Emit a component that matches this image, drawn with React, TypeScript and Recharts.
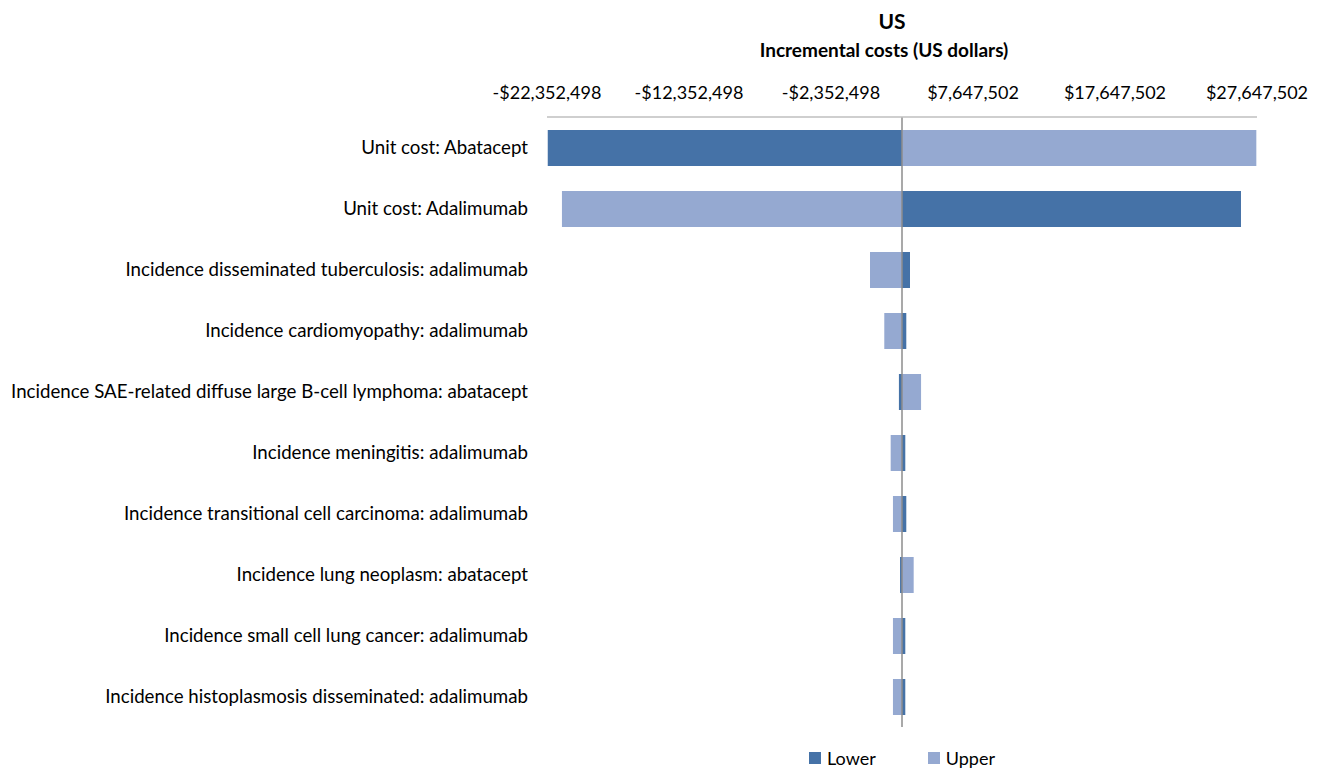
import React from 'react';
import { BarChart, Bar, XAxis, YAxis, ReferenceLine, Legend } from 'recharts';

const BASE = 2647502;

const categories = [
  'Unit cost: Abatacept',
  'Unit cost: Adalimumab',
  'Incidence disseminated tuberculosis: adalimumab',
  'Incidence cardiomyopathy: adalimumab',
  'Incidence SAE-related diffuse large B-cell lymphoma: abatacept',
  'Incidence meningitis: adalimumab',
  'Incidence transitional cell carcinoma: adalimumab',
  'Incidence lung neoplasm: abatacept',
  'Incidence small cell lung cancer: adalimumab',
  'Incidence histoplasmosis disseminated: adalimumab',
];

const lowerValues = [-22300000, 26520000, 3210000, 2950000, 2430000, 2880000, 2950000, 2510000, 2880000, 2880000];
const upperValues = [27600000, -21300000, 394000, 1400000, 3990000, 1850000, 2010000, 3470000, 2010000, 2010000];

const xTicks = [-22352498, -12352498, -2352498, 7647502, 17647502, 27647502];

const DARK = '#4572A7';
const LIGHT = '#95A9D1';
const FONT = 'Lato, "Open Sans", sans-serif';

const data = categories.map((name, i) => ({
  name,
  lower: lowerValues[i],
  upper: upperValues[i],
}));

const fmt = (v: number) =>
  (v < 0 ? '-$' : '$') + Math.abs(v).toLocaleString('en-US');

const range = (key: 'lower' | 'upper') => (d: any) => [
  Math.min(BASE, d[key]),
  Math.max(BASE, d[key]),
];

const LegendContent = (props: any) => {
  const payload = props.payload || [];
  return (
    <div
      style={{
        display: 'flex',
        justifyContent: 'center',
        alignItems: 'center',
        fontFamily: FONT,
        fontSize: 18,
        color: '#000',
        gap: 52,
      }}
    >
      {payload.map((p: any) => (
        <div key={p.value} style={{ display: 'flex', alignItems: 'center' }}>
          <span
            style={{
              display: 'inline-block',
              width: 12,
              height: 12,
              background: p.color,
              marginRight: 6,
            }}
          />
          <span>{p.value}</span>
        </div>
      ))}
    </div>
  );
};

export default function App() {
  return (
    <div
      style={{
        position: 'absolute',
        left: 0,
        top: 0,
        width: 1322,
        height: 771,
        background: '#fff',
        fontFamily: FONT,
      }}
    >
      <div
        style={{
          position: 'absolute',
          left: 792,
          width: 200,
          top: 8,
          textAlign: 'center',
          fontWeight: 700,
          fontSize: 21,
          color: '#000',
        }}
      >
        US
      </div>
      <div
        style={{
          position: 'absolute',
          left: 684,
          width: 400,
          top: 38,
          textAlign: 'center',
          fontWeight: 700,
          fontSize: 19,
          color: '#000',
        }}
      >
        Incremental costs (US dollars)
      </div>
      <BarChart
        width={1322}
        height={771}
        data={data}
        layout="vertical"
        margin={{ top: 77, right: 65, bottom: 0, left: 0 }}
        barSize={36}
        barGap={-36}
      >
        <XAxis
          type="number"
          orientation="top"
          height={40}
          domain={[-22352498, 27647502]}
          ticks={xTicks}
          interval={0}
          allowDataOverflow
          tickFormatter={fmt}
          axisLine={{ stroke: '#bfbfbf', strokeWidth: 1.5 }}
          tickLine={false}
          tickSize={0}
          tickMargin={18}
          tick={{ fill: '#000', fontSize: 18, fontFamily: FONT }}
        />
        <YAxis
          type="category"
          dataKey="name"
          width={547}
          interval={0}
          axisLine={false}
          tickLine={false}
          tickSize={0}
          tickMargin={19}
          tick={{ fill: '#000', fontSize: 18.7, fontFamily: FONT }}
        />
        <Bar
          name="Lower"
          dataKey={range('lower')}
          fill={DARK}
          isAnimationActive={false}
        />
        <Bar
          name="Upper"
          dataKey={range('upper')}
          fill={LIGHT}
          isAnimationActive={false}
        />
        <ReferenceLine x={BASE} stroke="#8c8c8c" strokeWidth={1.5} />
        <Legend
          verticalAlign="bottom"
          content={LegendContent}
          wrapperStyle={{
            left: 547,
            width: 710,
            height: 44,
            bottom: 0,
            paddingTop: 20,
            boxSizing: 'border-box',
          }}
        />
      </BarChart>
    </div>
  );
}
